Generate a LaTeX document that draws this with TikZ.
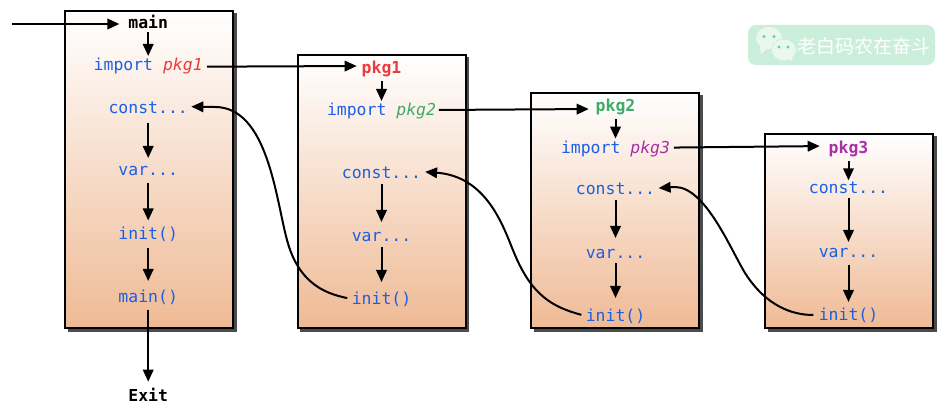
\documentclass[tikz,border=0pt]{standalone}
\usepackage{fontspec}
\setmonofont{DejaVu Sans Mono}
\newfontfamily\cjkfont{Noto Sans CJK SC}
\usetikzlibrary{arrows.meta}
\definecolor{codeblue}{HTML}{1A5FE6}
\definecolor{redpkg}{HTML}{EB3B3B}
\definecolor{greenpkg}{HTML}{3FAA6A}
\definecolor{purplepkg}{HTML}{AA2FA8}
\definecolor{boxbottom}{HTML}{EFBA95}
\definecolor{logobg}{HTML}{CBEEDB}
\definecolor{logodot}{HTML}{5FD598}
\definecolor{logobub}{HTML}{E9F7EF}
\tikzset{
  x=1pt,y=-1pt,
  lbl/.style={font=\fontsize{16.45pt}{18pt}\selectfont\ttfamily,text=codeblue,inner sep=0pt,outer sep=0pt,text height=14pt,text depth=2.6pt,minimum height=26pt,anchor=center},
  head/.style={lbl,font=\fontsize{16.45pt}{18pt}\selectfont\ttfamily\bfseries,text=black},
  pkgbox/.style={draw=black,line width=2pt,top color=white,bottom color=boxbottom,minimum width=168pt,inner sep=0pt,outer sep=0pt,anchor=north west},
  shadowbox/.style={fill=black!70,draw=none,minimum width=169pt,inner sep=0pt,outer sep=0pt,anchor=north west},
  conn/.style={line width=2pt,-{Triangle[length=12pt,width=10.5pt]}},
  bub/.style={fill=logobub,draw=none},
}
\begin{document}
\begin{tikzpicture}
\useasboundingbox (0,0) rectangle (948,419);
% shadows
\node[shadowbox,minimum height=319pt] at (67.5,13) {};
\node[shadowbox,minimum height=275pt] at (300.2,57) {};
\node[shadowbox,minimum height=237pt] at (533.5,95) {};
\node[shadowbox,minimum height=196pt] at (767.5,136) {};
% boxes
\node[pkgbox,minimum height=317pt] (boxa) at (65.3,11) {};
\node[pkgbox,minimum height=273pt] (boxb) at (298.2,55) {};
\node[pkgbox,minimum height=235pt] (boxc) at (531,93.3) {};
\node[pkgbox,minimum height=194pt] (boxd) at (765,134) {};
% main column
\coordinate (start) at (12,24);
\node[head] (amain) at (148.2,23.3) {main};
\node[lbl] (aimp) at (148.2,65) {import \textcolor{redpkg}{\itshape pkg1}};
\node[lbl] (acon) at (148.2,107.6) {const...};
\node[lbl] (avar) at (148.2,170) {var...};
\node[lbl] (aini) at (148.2,233.5) {init()};
\node[lbl] (afun) at (148.2,296.6) {main()};
\node[head] (exit) at (148.2,396) {Exit};
% pkg1 column
\node[head,text=redpkg] (bpkg) at (381.5,68) {pkg1};
\node[lbl] (bimp) at (381.5,110) {import \textcolor{greenpkg}{\itshape pkg2}};
\node[lbl] (bcon) at (381.5,172.6) {const...};
\node[lbl] (bvar) at (381.5,236) {var...};
\node[lbl] (bini) at (381.5,299) {init()};
% pkg2 column
\node[head,text=greenpkg] (cpkg) at (615.5,106) {pkg2};
\node[lbl] (cimp) at (615.5,147.6) {import \textcolor{purplepkg}{\itshape pkg3}};
\node[lbl] (ccon) at (615.5,189.3) {const...};
\node[lbl] (cvar) at (615.5,252.6) {var...};
\node[lbl] (cini) at (615.5,316) {init()};
% pkg3 column
\node[head,text=purplepkg] (dpkg) at (848.5,148) {pkg3};
\node[lbl] (dcon) at (848.5,188.3) {const...};
\node[lbl] (dvar) at (848.5,251.6) {var...};
\node[lbl] (dini) at (848.5,315) {init()};
% vertical connectors
\draw[conn,shorten >=9pt] (start) -- (amain.west |- start);
\draw[conn,shorten <=-4pt,shorten >=-4pt] (amain) -- (aimp);
\draw[conn,shorten <=2.4pt,shorten >=-1pt] (acon) -- (avar);
\draw[conn] (avar) -- (aini);
\draw[conn,shorten <=1.5pt,shorten >=2.6pt] (aini) -- (afun);
\draw[conn,shorten >=1.3pt] (afun) -- (exit);
\draw[conn,shorten >=-4pt] (bpkg) -- (bimp);
\draw[conn,shorten <=-1.5pt,shorten >=1pt] (bcon) -- (bvar);
\draw[conn,shorten <=-2pt,shorten >=4pt] (bvar) -- (bini);
\draw[conn,shorten >=-4pt] (cpkg) -- (cimp);
\draw[conn,shorten <=-2pt,shorten >=1.6pt] (ccon) -- (cvar);
\draw[conn,shorten <=-2.6pt,shorten >=5pt] (cvar) -- (cini);
\draw[conn,shorten >=-5pt] (dpkg) -- (dcon);
\draw[conn,shorten <=-3pt,shorten >=-3.4pt] (dcon) -- (dvar);
\draw[conn] (dvar) -- (dini);
% horizontal connectors
\draw[conn,shorten <=4.5pt,shorten >=5pt] ([yshift=-1.7pt]aimp.east) -- ([yshift=2pt]bpkg.west);
\draw[conn,shorten <=3pt,shorten >=7pt] (bimp.east) -- ([yshift=-3pt]cpkg.west);
\draw[conn,shorten <=4pt,shorten >=9pt] (cimp.east) -- ([yshift=2pt]dpkg.west);
% return curves
\coordinate (abmid) at (287,240);
\coordinate (bcmid) at (515,255);
\coordinate (cdmid) at (745,273);
\draw[conn,shorten <=4.6pt,shorten >=3.5pt] (bini.west) .. controls (322,293) and (298,281) .. (abmid) .. controls (276,200) and (268,107) .. (215,107) -- ([yshift=1pt]acon.east);
\draw[conn,shorten <=4.6pt,shorten >=4pt] (cini.west) .. controls (552,307) and (532,295) .. (bcmid) .. controls (505,232) and (490,179) .. (440,173) -- ([yshift=1pt]bcon.east);
\draw[conn,shorten <=5.5pt,shorten >=3.5pt] (dini.west) .. controls (792,315) and (766,306) .. (cdmid) .. controls (730,248) and (705,187) .. (675,187) -- ([yshift=1pt]ccon.east);
% logo
\fill[logobg,rounded corners=8pt] (748,25) rectangle (935,65);
\fill[bub] (769,38) ellipse [x radius=13, y radius=11];
\fill[bub] (760,47) -- (761,54) -- (768,48) -- cycle;
\fill[logobg] (784,50) ellipse [x radius=13, y radius=11.5];
\fill[bub] (784,50) ellipse [x radius=12, y radius=10.5];
\fill[bub] (788,58) -- (792,62) -- (792,57) -- cycle;
\fill[logodot] (764,36.5) circle (1.6) (774,36.5) circle (1.6) (779,47) circle (1.6) (788,47) circle (1.6);
\node[text=white,inner sep=0pt,font=\cjkfont\fontsize{19pt}{20pt}\selectfont] (logo) at (864,46) {老白码农在奋斗};
\end{tikzpicture}
\end{document}
